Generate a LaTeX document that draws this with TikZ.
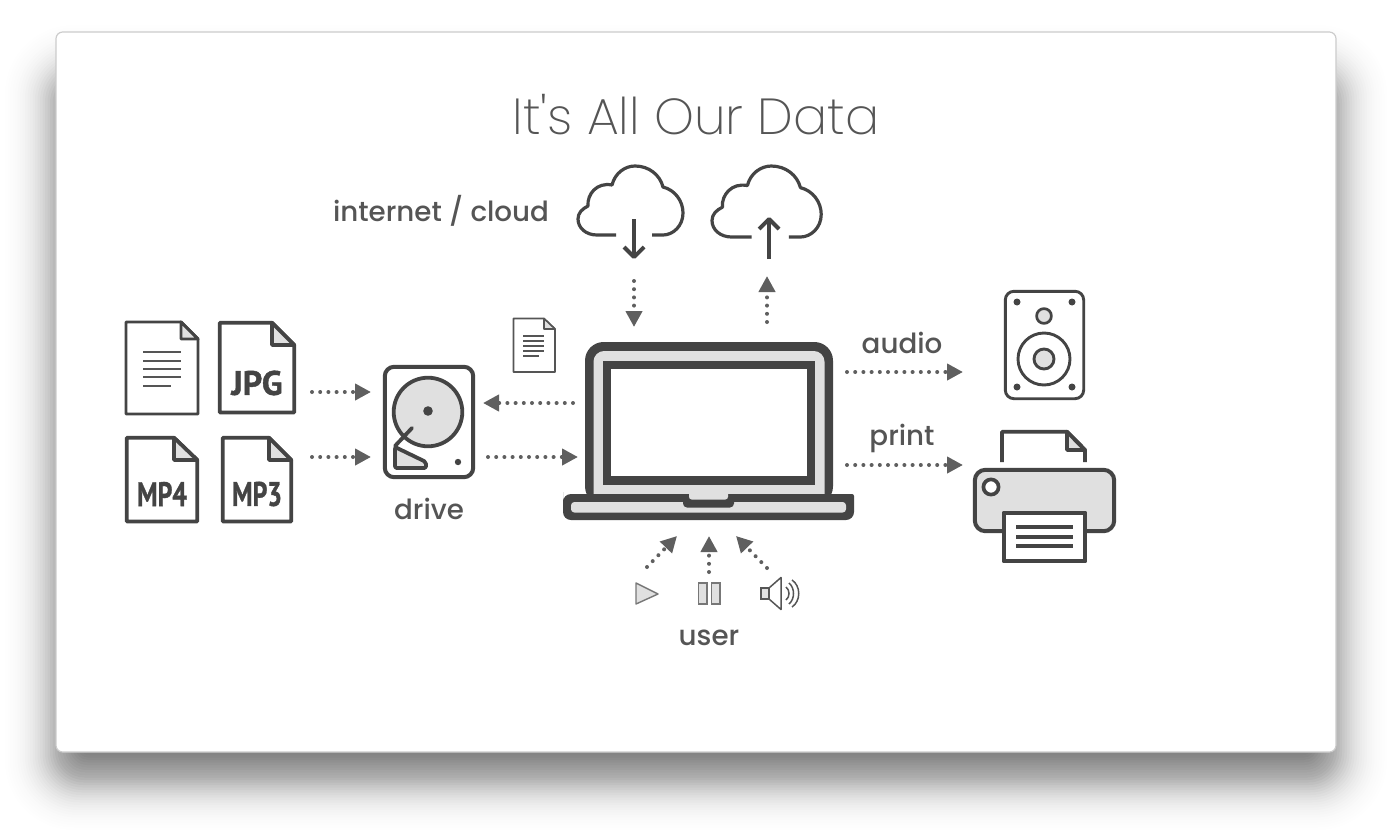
\documentclass[tikz,border=0pt]{standalone}
\usepackage{fontspec}
\usepackage{graphicx}
\setmainfont{Poppins}
\newfontfamily\lightfont{Poppins ExtraLight}
\newfontfamily\labelfont{Poppins Medium}
\newfontfamily\stampfont{PT Sans Bold}[FakeBold=1.2]
\usetikzlibrary{arrows.meta}
\definecolor{ink}{HTML}{444444}
\definecolor{txt}{HTML}{555555}
\definecolor{flow}{HTML}{5F5F5F}
\definecolor{pale}{HTML}{E0E0E0}
\tikzset{
  x=0.75pt,y=-0.75pt,
  lw/.style={line width=#1*0.75pt},
  flowarrow/.style={draw=flow,line width=3pt,line cap=round,dash pattern=on 0pt off 6.15pt,
    -{Triangle[length=12pt,width=12pt,color=flow,sep=0pt]}},
  lab/.style={font=\labelfont\fontsize{20.8}{22}\selectfont,text=txt,inner sep=0pt,anchor=center},
  stamp/.style={font=\stampfont\fontsize{25.5}{28}\selectfont,text=ink,inner sep=0pt},
  icon/.style={draw=ink,line join=round},
}
\begin{document}
\begin{tikzpicture}
\useasboundingbox (0,0) rectangle (1392,832);
\fill[white] (0,0) rectangle (1392,832);
% window shadow
\foreach \d in {-65,-62.5,...,65}{
  \pgfmathsetmacro\a{0.02765*exp(-(\d*\d)/(2*25*25))}
  \pgfmathsetmacro\r{max(2,(25+0.8*\d))*0.75}
  \fill[black,fill opacity=\a,rounded corners=\r pt] ({60-\d},{80-\d}) rectangle ({1332+\d},{775+\d});
}
% window
\draw[draw=black!20,fill=white,line width=0.9pt,rounded corners=5pt] (56,32) rectangle (1336,752);

% title
\node[font=\lightfont\fontsize{38}{42}\selectfont,text=txt,inner sep=0pt] (title) at (696,115) {It's All Our Data};

% ---- plain document
\node[lab] (lcloud) at (441,211) {internet / cloud};
\draw[icon,lw=2.9,fill=white] (126,322) -- (181,322) -- (198,339) -- (198,414) -- (126,414) -- cycle;
\draw[icon,lw=2.9,fill=pale] (181,322) -- (181,339) -- (198,339) -- cycle;
\foreach \yy in {352,361,369,377}{\draw[draw=txt,lw=2.7] (143,\yy) -- (181,\yy);}
\draw[draw=txt,lw=2.7] (143,386) -- (171,386);

% ---- JPG
\draw[icon,lw=3.7] (219.7,322.7) -- (272,322.7) -- (294.3,345) -- (294.3,412.5) -- (219.7,412.5) -- cycle;
\draw[icon,lw=3.7,fill=pale] (272,322.7) -- (272,345) -- (294.3,345) -- cycle;
\node[stamp] (jpg) at (257,383) {\scalebox{1.0}[1]{JPG}};

% ---- MP4
\draw[icon,lw=3.7] (126.7,437.7) -- (174,437.7) -- (197.3,460) -- (197.3,521.5) -- (126.7,521.5) -- cycle;
\draw[icon,lw=3.7,fill=pale] (174,437.7) -- (174,460) -- (197.3,460) -- cycle;
\node[stamp] (mpfour) at (162,494) {\scalebox{0.76}[1]{MP4}};

% ---- MP3
\draw[icon,lw=3.7] (222.7,437.7) -- (269,437.7) -- (291.3,460) -- (291.3,521.5) -- (222.7,521.5) -- cycle;
\draw[icon,lw=3.7,fill=pale] (269,437.7) -- (269,460) -- (291.3,460) -- cycle;
\node[stamp] (mpthree) at (257,494) {\scalebox{0.76}[1]{MP3}};

% ---- drive
\draw[icon,lw=4,fill=white,rounded corners=7pt] (384.8,366.8) rectangle (473.2,477.2);
\draw[icon,lw=3.8,fill=pale] (428,412) circle[radius=34.3];
\fill[ink] (428,411) circle[radius=4.8];
\draw[draw=ink,lw=3.8,line cap=round] (412,428) -- (395,446);
\draw[icon,lw=3.8,fill=pale,rounded corners=1.5pt] (395,447) -- (426,462) -- (426,468) -- (395,468) -- cycle;
\fill[ink] (458,462) circle[radius=3.2];
\node[lab] (ldrive) at (429,509) {drive};

% ---- clouds
\def\cloudshape{(616,235) -- (597,235) .. controls (586,235) and (578,228) .. (578,219)
  .. controls (578,213) and (582,209) .. (588,206)
  .. controls (587,194) and (597,182) .. (612,185)
  .. controls (615,173) and (625,166) .. (635,166)
  .. controls (649,166) and (660,175) .. (663,187)
  .. controls (675,190) and (683,201) .. (683,213)
  .. controls (683,226) and (673,235) .. (663,235) -- (652,235)}
\draw[icon,lw=3.2] \cloudshape;
\begin{scope}[shift={(110.9,-4.8)},xscale=1.04,yscale=1.029]
\draw[icon,lw=3.2] \cloudshape;
\end{scope}
\draw[icon,lw=3.9] (634,219) -- (634,258);
\draw[icon,lw=3.9] (624,247) -- (634,257) -- (644,247);
\draw[icon,lw=3.9] (769,259) -- (769,219);
\draw[icon,lw=3.9] (759,229) -- (769,219) -- (779,229);

% ---- small document
\draw[draw=txt,lw=1.6,fill=white,line join=round] (513.5,318.5) -- (544,318.5) -- (555,329) -- (555,372) -- (513.5,372) -- cycle;
\draw[draw=txt,lw=1.6,fill=pale,line join=round] (544,318.5) -- (544,329) -- (555,329) -- cycle;
\foreach \yy in {336,341,346,351}{\draw[draw=txt,lw=1.8] (523,\yy) -- (544,\yy);}
\draw[draw=txt,lw=1.8] (523,356) -- (539,356);

% ---- laptop
\fill[ink,rounded corners=14pt] (585,342) rectangle (833,505);
\fill[pale,rounded corners=8pt] (593.5,351) rectangle (824.5,505);
\fill[ink] (603,361) rectangle (815,485);
\fill[white] (611,369) rectangle (807,476);
\fill[ink,rounded corners=1.5pt] (563,494) -- (854,494) -- (854,500) [rounded corners=6pt] -- (854,520) -- (563,520) -- (563,500) -- cycle;
\fill[pale,rounded corners=2.5pt] (571,502) -- (846,502) -- (846,512.5) -- (571,512.5) -- cycle;
\fill[ink,rounded corners=3pt] (683,494) -- (734,494) -- (734,507.5) -- (683,507.5) -- cycle;
\fill[pale,rounded corners=2pt] (689,490) -- (728,490) -- (728,499.5) -- (689,499.5) -- cycle;

% ---- speaker box
\draw[icon,lw=2.9,fill=white,rounded corners=6.5pt] (1005.3,291.3) rectangle (1083.7,398.7);
\foreach \px/\py in {1017/302,1072/302,1017/387,1072/387}{\fill[ink] (\px,\py) circle[radius=3.5];}
\draw[icon,lw=2.7,fill=pale] (1044,316) circle[radius=7.4];
\draw[icon,lw=2.9] (1044,359) circle[radius=26];
\draw[icon,lw=2.9,fill=pale] (1044,359) circle[radius=10];

% ---- printer
\draw[icon,lw=3.8] (1002,462) -- (1002,431.7) -- (1067,431.7) -- (1085,450) -- (1085,462);
\draw[icon,lw=3.8,fill=pale] (1067,431.7) -- (1067,450) -- (1085,450) -- cycle;
\draw[icon,lw=4,fill=pale,rounded corners=8pt] (974.8,469.8) rectangle (1114.2,531.2);
\draw[icon,lw=3.7,fill=white] (991,487) circle[radius=7.6];
\draw[icon,lw=3.9,fill=white] (1003.7,512.7) rectangle (1085.3,561.3);
\foreach \yy in {527,537,546}{\draw[draw=ink,lw=3.4] (1016,\yy) -- (1073,\yy);}

% ---- user controls
\draw[draw=txt!80,lw=1.4,fill=pale,line join=round] (636,583) -- (658,594) -- (636,604) -- cycle;
\draw[draw=txt!80,lw=1.4,fill=pale] (698.5,583) rectangle (707,604);
\draw[draw=txt!80,lw=1.4,fill=pale] (711.5,583) rectangle (720,604);
\draw[draw=txt,lw=1.5,fill=pale] (761,588) rectangle (769,599);
\draw[draw=txt,lw=1.5,fill=white,line join=round] (769,588) -- (781,577.5) -- (781,609.5) -- (769,599) -- cycle;
\draw[draw=txt,lw=1.5] (786,587) .. controls (790,590) and (790,597) .. (786,600);
\draw[draw=txt,lw=1.5] (789,583) .. controls (795,588) and (795,599) .. (789,604);
\draw[draw=txt,lw=1.5] (792,580) .. controls (801,586) and (801,601) .. (792,607);
\node[lab,anchor=base] (luser) at (709,645) {user};
\node[lab] (laudio) at (902,343) {audio};
\node[lab,anchor=base] (lprint) at (902,445) {print};

% ---- connector ends
\coordinate (jpgOut) at (312,392);   \coordinate (driveInA) at (371,392);
\coordinate (mpOut) at (312,457);    \coordinate (driveInB) at (371,457);
\coordinate (lapOutL) at (573,403);  \coordinate (driveInC) at (483,403);
\coordinate (driveOut) at (488,457); \coordinate (lapInL) at (578,457);
\coordinate (downFrom) at (634,281); \coordinate (lapInT) at (634,327);
\coordinate (upFrom) at (767,322);   \coordinate (cloudIn) at (767,276);
\coordinate (audioFrom) at (847,372);\coordinate (audioTo) at (963,372);
\coordinate (printFrom) at (847,465);\coordinate (printTo) at (963,465);
\coordinate (playFrom) at (647,567); \coordinate (lapInA) at (677,536);
\coordinate (pauseFrom) at (709,572);\coordinate (lapInB) at (709,536);
\coordinate (volFrom) at (767,568);  \coordinate (lapInC) at (736,536);
\foreach \s/\e in {jpgOut/driveInA,mpOut/driveInB,lapOutL/driveInC,driveOut/lapInL,downFrom/lapInT,upFrom/cloudIn,audioFrom/audioTo,printFrom/printTo,playFrom/lapInA,pauseFrom/lapInB,volFrom/lapInC}{
  \draw[flowarrow] (\s) -- (\e);
}
\end{tikzpicture}
\end{document}
